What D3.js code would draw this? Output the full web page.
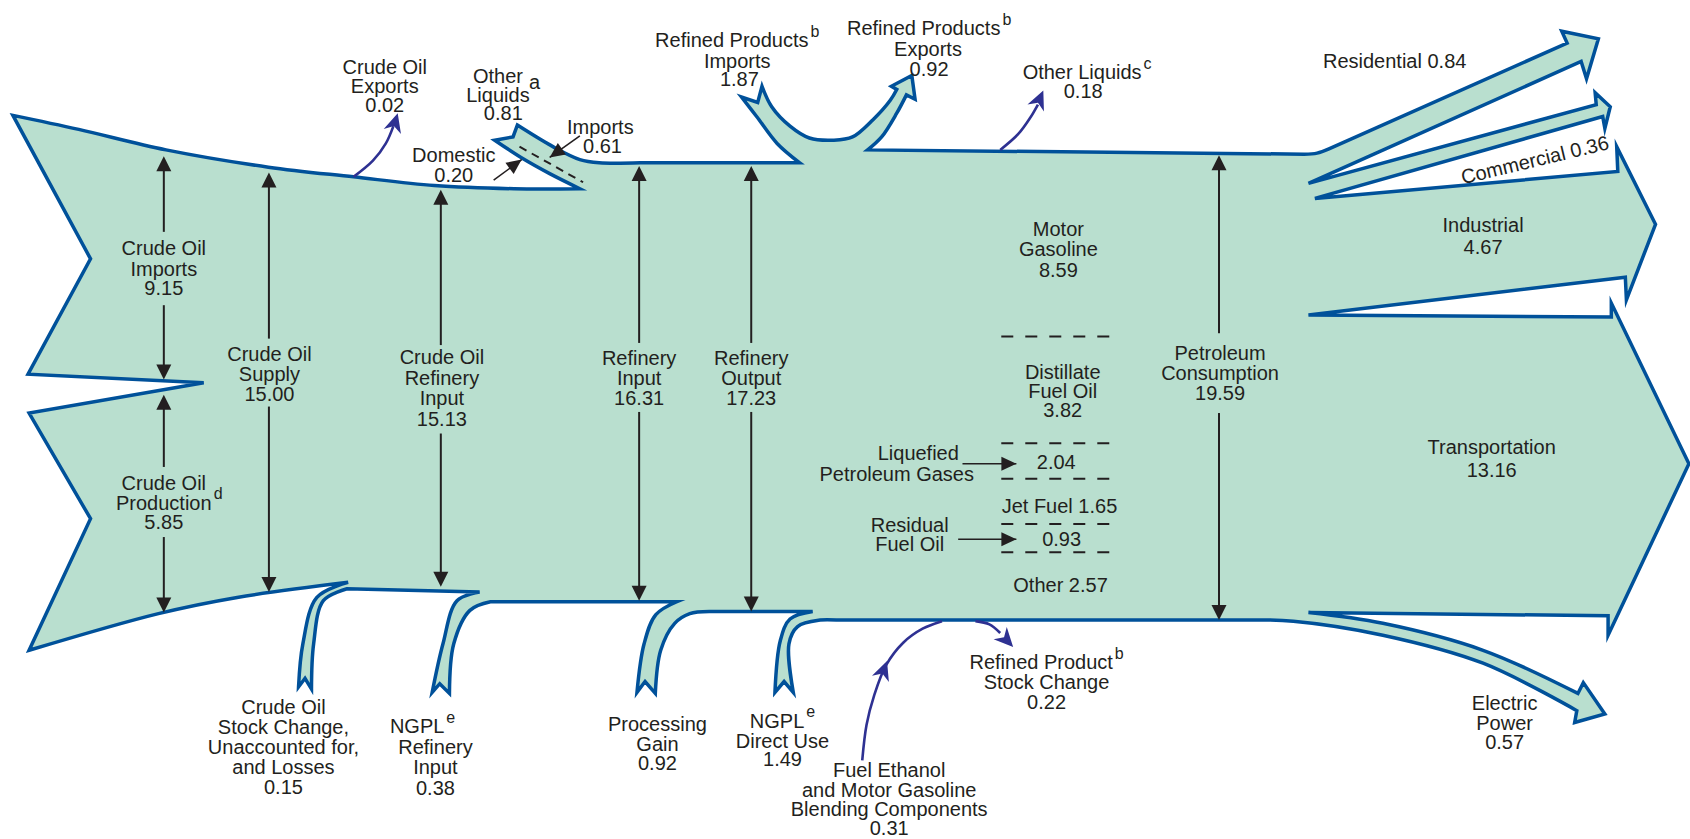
<!DOCTYPE html>
<html>
<head>
<meta charset="utf-8">
<script src="https://cdn.jsdelivr.net/npm/d3@7"></script>
<style>
  body { margin: 0; background: #fff; }
  svg { display: block; }
  text { font-family: "Liberation Sans", Arial, sans-serif; fill: #231f20; }
</style>
</head>
<body>
<svg id="chart" width="1690" height="839"></svg>
<script>
// ---- data (quadrillion Btu) ----
const stageNames = [["Crude Oil", "Imports"], ["Crude Oil", "Production"], ["Crude Oil", "Supply"],
    ["Crude Oil", "Refinery", "Input"], ["Refinery", "Input"], ["Refinery", "Output"], ["Petroleum", "Consumption"]];
const stageValues = [9.15, 5.85, 15.00, 15.13, 16.31, 17.23, 19.59];
const stageNotes = ["", "d", "", "", "", "", ""];

const topFlowNames = [["Crude Oil", "Exports"], ["Other", "Liquids"], ["Refined Products", "Imports"],
    ["Refined Products", "Exports"], ["Other Liquids"]];
const topFlowValues = [0.02, 0.81, 1.87, 0.92, 0.18];
const topFlowNotes = ["", "a", "b", "b", "c"];

const otherLiquidsParts = ["Domestic", "Imports"];
const otherLiquidsValues = [0.20, 0.61];

const bottomFlowNames = [["Crude Oil", "Stock Change,", "Unaccounted for,", "and Losses"], ["NGPL", "Refinery", "Input"],
    ["Processing", "Gain"], ["NGPL", "Direct Use"], ["Fuel Ethanol", "and Motor Gasoline", "Blending Components"],
    ["Refined Product", "Stock Change"]];
const bottomFlowValues = [0.15, 0.38, 0.92, 1.49, 0.31, 0.22];
const bottomFlowNotes = ["", "e", "", "e", "", "b"];

const productNames = [["Motor", "Gasoline"], ["Distillate", "Fuel Oil"], ["Liquefied", "Petroleum Gases"],
    ["Jet Fuel"], ["Residual", "Fuel Oil"], ["Other"]];
const productValues = [8.59, 3.82, 2.04, 1.65, 0.93, 2.57];

const sectorNames = [["Residential"], ["Commercial"], ["Industrial"], ["Transportation"], ["Electric", "Power"]];
const sectorValues = [0.84, 0.36, 4.67, 13.16, 0.57];

// ---- layout ----
const W = 1690, H = 839;
const x = d3.scaleLinear().domain([0, 1568]).range([0, W]);
const y = d3.scaleLinear().domain([0, 778]).range([0, H]);
const fmt = d3.format(".2f");

const FILL = "#b9dfcf", EDGE = "#00519a", INDIGO = "#2e3192", INK = "#231f20";

const svg = d3.select("#chart");

function outline(segments) {
    let d = "";
    segments.forEach((seg, i) => {
        const gen = d3.line().x(p => x(p[0])).y(p => y(p[1]))
            .curve(seg[0] === "S" ? d3.curveCatmullRom.alpha(0.5) : d3.curveLinear);
        const s = gen(seg[1]);
        d += i === 0 ? s : s.replace(/^M/, "L");
    });
    return d + "Z";
}

// main flow body, one outline going clockwise
const bodySegments = [
    ["S", [[12,107],[73,120],[154,139],[249,155],[328,164],[403,172],[477,175],[538,175]]],
    ["S", [[538,175],[510,161],[485,147],[459,130]]],
    ["L", [[459,130],[476,127],[480,116]]],
    ["S", [[480,116],[513,136],[538,148],[556,151],[594,151]]],
    ["L", [[594,151],[742,151]]],
    ["S", [[742,151],[721,133],[702,108],[688,90]]],
    ["L", [[688,90],[703,95],[707,80]]],
    ["S", [[707,80],[716,99],[733,117],[751,128],[773,130],[791,127],[810,111],[826,93],[832,83]]],
    ["L", [[832,83],[827,80],[846,70],[849,92],[841,88]]],
    ["S", [[841,88],[832,105],[818,127],[805,139]]],
    ["L", [[805,139],[1210,143]]],
    ["S", [[1210,143],[1222,142],[1233,138]]],
    ["L", [[1233,138],[1454,40],[1449,29],[1483,36],[1472,73],[1467,57],[1214,170],
           [1481,97],[1480,86],[1494,99],[1489,119],[1487,108],[1220,184],
           [1501,159],[1500,136],[1536,208],[1509,278],[1508,257],[1214,292],
           [1495,294],[1495,281],[1567,430],[1492,589],[1492,571],[1214,568]]],
    ["S", [[1214,568],[1283,578],[1376,603],[1464,643]]],
    ["L", [[1464,643],[1469,633],[1489,662],[1461,670],[1463,659]]],
    ["S", [[1463,659],[1376,615],[1283,589],[1200,576],[1160,575]]],
    ["L", [[1160,575],[776,575]]],
    ["S", [[776,575],[761,575],[740,581],[732,597],[736,642]]],
    ["L", [[736,642],[727.5,632],[719,642]]],
    ["S", [[719,642],[724,594],[733,574],[754,567]]],
    ["L", [[754,567],[658,567]]],
    ["S", [[658,567],[640,569],[626,578],[613,603],[608,643]]],
    ["L", [[608,643],[598.5,632],[591,642]]],
    ["S", [[591,642],[597.6,597],[608.5,570],[628,558]]],
    ["L", [[628,558],[455,558]]],
    ["S", [[455,558],[436,566],[421,597],[417,643]]],
    ["L", [[417,643],[408,634],[401,642]]],
    ["S", [[401,642],[411,597],[424,557],[445,549]]],
    ["L", [[445,549],[322,546]]],
    ["S", [[322,546],[300,557],[291,597],[289,639]]],
    ["L", [[289,639],[283,629],[277,637]]],
    ["S", [[277,637],[281,597],[294,554],[323,540]]],
    ["S", [[323,540],[220,554],[147,569],[27,603]]],
    ["L", [[27,603],[84,481],[27,383],[189,355],[26,347],[84,240],[12,107]]]
];

svg.append("path")
    .attr("d", outline(bodySegments))
    .attr("fill", FILL)
    .attr("stroke", EDGE)
    .attr("stroke-width", 3.5)
    .attr("stroke-linejoin", "miter")
    .attr("stroke-miterlimit", 6);

// arrowhead polygon (concave when notch > 0)
function head(tip, from, len, half, notch) {
    const tx = x(tip[0]), ty = y(tip[1]);
    const fx = x(from[0]), fy = y(from[1]);
    const dl = Math.hypot(tx - fx, ty - fy);
    const ux = (tx - fx) / dl, uy = (ty - fy) / dl;
    const nx = -uy, ny = ux;
    const bx = tx - ux * len, by = ty - uy * len;
    const ix = tx - ux * len * (1 - notch), iy = ty - uy * len * (1 - notch);
    return [[tx, ty], [bx + nx * half, by + ny * half], [ix, iy], [bx - nx * half, by - ny * half]];
}

function drawHead(g, pts, color) {
    g.append("polygon")
        .attr("points", pts.map(p => p.join(",")).join(" "))
        .attr("fill", color);
}

// black measurement arrows (x, top tip, gap top, gap bottom, bottom tip)
const measureArrows = [
    [152, 145, 215, 283, 352],
    [152, 366, 433, 498, 568],
    [249.5, 160, 314, 377, 549],
    [409, 176, 320, 402, 544],
    [593, 154, 318, 382, 557],
    [697, 154, 318, 382, 567],
    [1131, 144, 309, 383, 575]
];
const ga = svg.append("g");
measureArrows.forEach(([cx, t, g1, g2, b]) => {
    ga.append("line").attr("x1", x(cx)).attr("x2", x(cx)).attr("y1", y(t) + 10).attr("y2", y(g1))
        .attr("stroke", INK).attr("stroke-width", 2);
    ga.append("line").attr("x1", x(cx)).attr("x2", x(cx)).attr("y1", y(g2)).attr("y2", y(b) - 10)
        .attr("stroke", INK).attr("stroke-width", 2);
    drawHead(ga, head([cx, t], [cx, t + 20], 15, 7.5, 0), INK);
    drawHead(ga, head([cx, b], [cx, b - 20], 15, 7.5, 0), INK);
});

// small straight pointer arrows
const pointers = [
    [[458,167], [484,148]],
    [[538,126], [510,146]],
    [[893,430], [943,430]],
    [[889,500], [943,500]]
];
pointers.forEach(([a, b]) => {
    ga.append("line").attr("x1", x(a[0])).attr("y1", y(a[1])).attr("x2", x(b[0])).attr("y2", y(b[1]))
        .attr("stroke", INK).attr("stroke-width", 1.6);
    drawHead(ga, head(b, a, 15, 7, 0), INK);
});

// dashed separators
const dashLines = [
    [[482,136],[541,169],"8,6"],
    [[929,312],[1030,312],"12,12"],
    [[929,411],[1030,411],"12,12"],
    [[929,444],[1030,444],"12,12"],
    [[929,486],[1030,486],"12,12"],
    [[929,512],[1030,512],"12,12"]
];
dashLines.forEach(([a, b, dash]) => {
    ga.append("line").attr("x1", x(a[0])).attr("y1", y(a[1])).attr("x2", x(b[0])).attr("y2", y(b[1]))
        .attr("stroke", INK).attr("stroke-width", 2).attr("stroke-dasharray", dash);
});

// thin indigo arrows: path points, head tip, head direction-from
const thinArrows = [
    { pts: [[328,164],[346,149],[358,133],[365,117]], tip: [369,105], from: [364,122] },
    { pts: [[928,139],[945,124],[956,109],[963,97]], tip: [968,84], from: [961,100] },
    { pts: [[905,576],[918,579],[928,587]], tip: [940,600], from: [926,585] },
    { pts: [[800,705],[804,672],[811,645],[822,617],[838,596],[856,583],[874,576]], tip: [823,613], from: [813,640] }
];
const gi = svg.append("g");
const thinLine = d3.line().x(p => x(p[0])).y(p => y(p[1])).curve(d3.curveCatmullRom.alpha(0.5));
thinArrows.forEach(a => {
    gi.append("path").attr("d", thinLine(a.pts)).attr("fill", "none")
        .attr("stroke", INDIGO).attr("stroke-width", 2.6);
    drawHead(gi, head(a.tip, a.from, 19, 9, 0.3), INDIGO);
});

// ---- labels ----
const FS = 20;
const gt = svg.append("g");

function label(lines, xs, ys, note, noteLine, noteDx, noteDy, size) {
    const fs = size || FS;
    lines.forEach((txt, i) => {
        const cx = Array.isArray(xs) ? xs[i] : xs;
        const t = gt.append("text")
            .attr("x", x(cx)).attr("y", y(ys[i]))
            .attr("dy", "0.36em")
            .attr("text-anchor", "middle")
            .attr("font-size", fs)
            .text(txt);
        if (note && i === noteLine) {
            const len = t.node().getComputedTextLength();
            gt.append("text")
                .attr("x", x(cx) + len / 2 + (noteDx || 2))
                .attr("y", y(ys[i]) + (noteDy === undefined ? -9 : noteDy))
                .attr("dy", "0.36em")
                .attr("font-size", noteDy === undefined ? 16 : fs)
                .text(note);
        }
    });
}

// stage labels
label([...stageNames[0], fmt(stageValues[0])], 152, [230, 249, 267]);
label([...stageNames[1], fmt(stageValues[1])], 152, [448, 466, 484], stageNotes[1], 1);
label([...stageNames[2], fmt(stageValues[2])], 250, [328, 346.5, 365.5]);
label([...stageNames[3], fmt(stageValues[3])], 410, [331, 350, 369, 388]);
label([...stageNames[4], fmt(stageValues[4])], 593, [332, 350.5, 369]);
label([...stageNames[5], fmt(stageValues[5])], 697, [332, 350.5, 369]);
label([...stageNames[6], fmt(stageValues[6])], 1132, [327, 345.5, 364]);

// products inside the body
label([...productNames[0], fmt(productValues[0])], 982, [212, 231, 250]);
label([...productNames[1], fmt(productValues[1])], 986, [345, 362.5, 380]);
label([productNames[2][0]], 852, [420]);
label([productNames[2][1]], 832, [439]);
label([fmt(productValues[2])], 980, [428]);
label([productNames[3][0] + " " + fmt(productValues[3])], 983, [469]);
label(productNames[4], 844, [487, 504.5]);
label([fmt(productValues[4])], 985, [500]);
label([productNames[5][0] + " " + fmt(productValues[5])], 984, [542]);

// top flows
label([...topFlowNames[0], fmt(topFlowValues[0])], 357, [62, 80, 97.5]);
label([...topFlowNames[1], fmt(topFlowValues[1])], [462, 462, 467], [70, 87.5, 105], topFlowNotes[1], 0, 6, 6);
label([otherLiquidsParts[1], fmt(otherLiquidsValues[1])], [557, 559], [117.5, 135.5]);
label([otherLiquidsParts[0], fmt(otherLiquidsValues[0])], 421, [143.5, 162]);
label([...topFlowNames[2], fmt(topFlowValues[2])], [679, 684, 686], [37, 56, 73.5], topFlowNotes[2], 0);
label([...topFlowNames[3], fmt(topFlowValues[3])], [857, 861, 862], [26, 45, 63.5], topFlowNotes[3], 0);
label([...topFlowNames[4], fmt(topFlowValues[4])], [1004, 1005], [67, 84.5], topFlowNotes[4], 0);

// sectors
label([sectorNames[0][0] + " " + fmt(sectorValues[0])], 1294, [56]);
gt.append("text")
    .attr("transform", `translate(${x(1424)},${y(148)}) rotate(-13.5)`)
    .attr("dy", "0.36em").attr("text-anchor", "middle").attr("font-size", FS)
    .text(sectorNames[1][0] + " " + fmt(sectorValues[1]));
label([sectorNames[2][0], fmt(sectorValues[2])], 1376, [208, 229]);
label([sectorNames[3][0], fmt(sectorValues[3])], 1384, [414, 436]);
label([...sectorNames[4], fmt(sectorValues[4])], 1396, [652, 670, 688]);

// bottom flows
label([...bottomFlowNames[0], fmt(bottomFlowValues[0])], 263, [655.5, 674, 692.5, 711, 729.5]);
label([...bottomFlowNames[1], fmt(bottomFlowValues[1])], [387, 404, 404, 404], [673, 692.5, 711.5, 730.5], bottomFlowNotes[1], 0);
label([...bottomFlowNames[2], fmt(bottomFlowValues[2])], 610, [671, 689.5, 707.5]);
label([...bottomFlowNames[3], fmt(bottomFlowValues[3])], [721, 726, 726], [668, 686.5, 704], bottomFlowNotes[3], 0);
label([...bottomFlowNames[4], fmt(bottomFlowValues[4])], 825, [713.5, 732, 750, 767.5]);
label([...bottomFlowNames[5], fmt(bottomFlowValues[5])], [966, 971, 971], [614, 632.5, 650.5], bottomFlowNotes[5], 0);
</script>
</body>
</html>
